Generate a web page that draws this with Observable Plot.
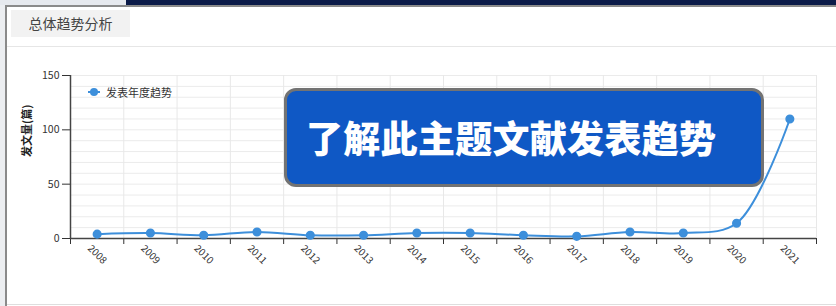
<!DOCTYPE html>
<html>
<head>
<meta charset="utf-8">
<script src="https://cdn.jsdelivr.net/npm/d3@7"></script>
<script src="https://cdn.jsdelivr.net/npm/@observablehq/plot@0.6"></script>
<style>
  html, body { margin: 0; padding: 0; background: #fff; width: 836px; height: 306px; overflow: hidden; font-family: "Noto Sans CJK SC", "Noto Sans", sans-serif; }
  .abs { position: absolute; }
  #chart { position: absolute; left: 0; top: 0; }
</style>
</head>
<body>
<div class="abs" style="left:0;top:0;width:126px;height:5px;background:#e6e9ee;"></div>
<div class="abs" style="left:126px;top:0;width:710px;height:5px;background:#0b1a48;"></div>
<div class="abs" style="left:0;top:5px;width:5px;height:301px;background:#eceef1;"></div>
<div class="abs" style="left:5px;top:5px;width:831px;height:2px;background:#8a8a8a;"></div>
<div class="abs" style="left:5px;top:5px;width:2px;height:301px;background:#8a8a8a;"></div>
<div class="abs" style="left:11px;top:10px;width:119px;height:27px;background:#f2f2f2;color:#444;font-size:14px;line-height:27px;text-align:center;">总体趋势分析</div>
<div class="abs" style="left:7px;top:46px;width:829px;height:1px;background:#e6e6e6;"></div>
<div class="abs" style="left:7px;top:304px;width:829px;height:1px;background:#dedede;"></div>
<div id="chart"></div>
<div class="abs" style="left:88px;top:86px;width:12px;height:12px;">
  <div class="abs" style="left:0;top:5px;width:12px;height:2px;background:#3d8fdb;"></div>
  <div class="abs" style="left:2px;top:2px;width:8px;height:8px;border-radius:50%;background:#3d8fdb;"></div>
</div>
<div class="abs" style="left:106px;top:84px;font-size:11px;color:#333;line-height:16px;">发表年度趋势</div>
<div class="abs" style="left:284px;top:88px;width:474px;height:93px;background:#0f58c5;border:3px solid #737373;border-radius:12px;"></div>
<div class="abs" style="left:306px;top:112px;font-size:37px;font-weight:900;color:#fff;line-height:50px;white-space:nowrap;letter-spacing:0.3px;">了解此主题文献发表趋势</div>
<script>
const years = [2008, 2009, 2010, 2011, 2012, 2013, 2014, 2015, 2016, 2017, 2018, 2019, 2020, 2021];
const counts = [4, 5, 3, 6, 3, 3, 5, 5, 3, 2, 6, 5, 14, 110];
const yTicks = [0, 50, 100, 150];
const yMinorGrid = d3.range(0, 151, 10);
const bandEdges = d3.range(2007.5, 2022, 1);

const data = years.map((y, i) => ({year: y, count: counts[i]}));
const blue = "#3d8fdb";

const chart = Plot.plot({
  width: 836,
  height: 306,
  marginLeft: 70,
  marginRight: 20,
  marginTop: 75,
  marginBottom: 68,
  style: {background: "transparent", fontFamily: "'Noto Sans CJK SC', 'Noto Sans', sans-serif", fontSize: "10.5px", color: "#333", overflow: "visible"},
  x: {domain: [2007.5, 2021.5], ticks: bandEdges, tickFormat: () => "", tickSize: 6, label: null},
  y: {domain: [0, 150], ticks: yTicks, tickSize: 8, tickPadding: 3, label: null},
  marks: [
    Plot.ruleY(yMinorGrid, {stroke: "#ebebeb", strokeWidth: 1}),
    Plot.ruleX(bandEdges, {y1: 0, y2: 150, stroke: "#e8e8e8", strokeWidth: 1}),
    Plot.ruleY([0], {stroke: "#444", strokeWidth: 1.5}),
    Plot.ruleX([2007.5], {y1: 0, y2: 150, stroke: "#444", strokeWidth: 1.5}),
    Plot.line(data, {x: "year", y: "count", stroke: blue, strokeWidth: 2, curve: "catmull-rom"}),
    Plot.dot(data, {x: "year", y: "count", r: 3.8, fill: blue, stroke: blue}),
    Plot.text(years, {x: d => d, y: () => 0, text: d => String(d), rotate: 45, dy: 16, fontSize: 10, fill: "#333"}),
    Plot.text(["发文量(篇)"], {frameAnchor: "left", rotate: -90, dx: -43, fontWeight: "bold", fontSize: 11, fill: "#222"})
  ]
});
document.getElementById("chart").appendChild(chart);
</script>
</body>
</html>
